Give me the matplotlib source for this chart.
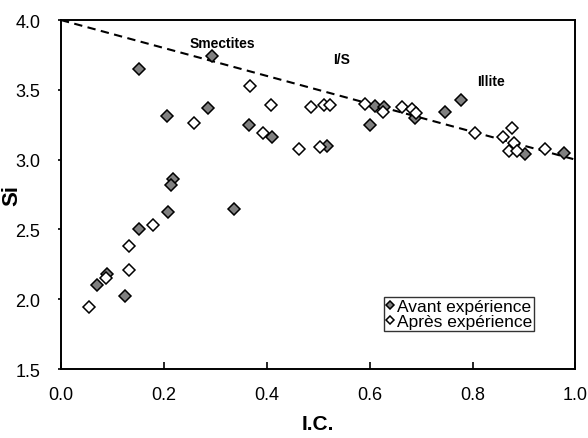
import matplotlib.pyplot as plt

plt.rcParams['font.family'] = ['Liberation Sans', 'DejaVu Sans']

# Avant expérience (filled grey diamonds)
avant_ic = [0.152, 0.294, 0.206, 0.285, 0.366, 0.411, 0.217, 0.214, 0.337, 0.208,
            0.152, 0.089, 0.070, 0.124, 0.517, 0.611, 0.627, 0.601, 0.689, 0.746,
            0.778, 0.901, 0.977]
avant_si = [3.65, 3.74, 3.31, 3.37, 3.25, 3.16, 2.86, 2.82, 2.65, 2.625,
            2.50, 2.18, 2.10, 2.02, 3.10, 3.385, 3.38, 3.25, 3.30, 3.34,
            3.425, 3.04, 3.05]

# Après expérience (open diamonds)
apres_ic = [0.368, 0.259, 0.409, 0.392, 0.462, 0.486, 0.503, 0.512, 0.522, 0.590,
            0.626, 0.663, 0.683, 0.691, 0.804, 0.859, 0.877, 0.880, 0.870, 0.887,
            0.941, 0.178, 0.132, 0.133, 0.088, 0.054]
apres_si = [3.53, 3.26, 3.39, 3.19, 3.08, 3.375, 3.09, 3.39, 3.39, 3.40,
            3.34, 3.375, 3.365, 3.335, 3.19, 3.165, 3.225, 3.12, 3.065, 3.065,
            3.075, 2.53, 2.38, 2.21, 2.15, 1.945]

trend_x = [0.0, 1.0]
trend_y = [4.0, 3.0]

labels = ['Smectites', 'I/S', 'Illite']
label_x = [0.313, 0.545, 0.835]
label_y = [3.835, 3.72, 3.56]

fig = plt.figure(figsize=(5.88, 4.39), dpi=100)
ax = fig.add_axes([0.1037, 0.157, 0.875, 0.795])

ax.plot(trend_x, trend_y, color='black', linestyle=(0, (4, 2.6)), linewidth=1.5, zorder=1)
ax.plot(avant_ic, avant_si, 'D', color='#808080', markeredgecolor='black',
        markeredgewidth=1.1, markersize=5.8, linestyle='none', label='Avant expérience', zorder=3)
ax.plot(apres_ic, apres_si, 'D', color='white', markeredgecolor='black',
        markeredgewidth=1.1, markersize=5.8, linestyle='none', label='Après expérience', zorder=3)

for t, x, y in zip(labels, label_x, label_y):
    ax.text(x, y, t, fontsize=10, fontweight='bold', ha='center', va='center')

ax.set_xlim(0, 1.0)
ax.set_ylim(1.5, 4.0)
ax.set_xticks([0.0, 0.2, 0.4, 0.6, 0.8, 1.0])
ax.set_yticks([1.5, 2.0, 2.5, 3.0, 3.5, 4.0])
ax.set_xticklabels(['0.0', '0.2', '0.4', '0.6', '0.8', '1.0'])
ax.set_yticklabels(['1.5', '2.0', '2.5', '3.0', '3.5', '4.0'])
ax.tick_params(direction='in', length=5, width=1.2, labelsize=13, pad=12)
ax.tick_params(axis='y', direction='out', length=2, pad=13)
for s in ax.spines.values():
    s.set_linewidth(1.4)

ax.set_xlabel('I.C.', fontsize=15, fontweight='bold')
ax.set_ylabel('Si', fontsize=16, fontweight='bold')
ax.xaxis.set_label_coords(0.5, -0.13)
ax.yaxis.set_label_coords(-0.075, 0.5)

leg = ax.legend(loc='lower left', bbox_to_anchor=(0.627, 0.11), fontsize=12.5,
                frameon=True, fancybox=False, edgecolor='black', handlelength=0.55,
                handletextpad=0.1, borderpad=0.1, labelspacing=0.0, borderaxespad=0,
                markerscale=0.75)
leg.get_frame().set_linewidth(1.0)

fig.savefig('out.png', dpi=100)
